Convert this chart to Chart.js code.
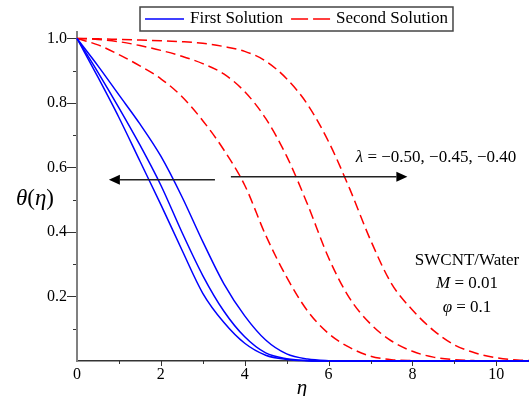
<!DOCTYPE html>
<html>
<head>
<meta charset="utf-8">
<script src="https://cdn.jsdelivr.net/npm/chart.js@4.4.1/dist/chart.umd.min.js"></script>
<style>
  body { margin: 0; background: #fff; }
  canvas { display: block; }
</style>
</head>
<body>
<canvas id="thetaChart" width="529" height="396"></canvas>
<script>
// eta grid the curves were read at
const etaValues = [0, 0.5, 1, 1.5, 2, 2.5, 3, 3.5, 4, 4.5, 5, 5.5, 6, 6.5, 7, 7.5, 8, 8.5, 9, 9.5, 10, 10.5, 11];

// first solution (blue, solid)
const firstSol1 = [1.0, 0.88, 0.755, 0.62, 0.485, 0.345, 0.21, 0.12, 0.055, 0.018, 0.005, 0.001, 0, 0, 0, 0, 0, 0, 0, 0, 0, 0, 0];
const firstSol2 = [1.0, 0.895, 0.785, 0.67, 0.545, 0.40, 0.265, 0.155, 0.075, 0.025, 0.007, 0.001, 0, 0, 0, 0, 0, 0, 0, 0, 0, 0, 0];
const firstSol3 = [1.0, 0.915, 0.825, 0.735, 0.635, 0.51, 0.37, 0.24, 0.14, 0.065, 0.022, 0.006, 0.001, 0, 0, 0, 0, 0, 0, 0, 0, 0, 0];

// second solution (red, dashed)
const secondSol1 = [1.0, 0.98, 0.95, 0.915, 0.875, 0.82, 0.745, 0.655, 0.545, 0.39, 0.26, 0.155, 0.085, 0.042, 0.015, 0.004, 0.001, 0, 0, 0, 0, 0, 0];
const secondSol2 = [1.0, 0.997, 0.99, 0.978, 0.963, 0.945, 0.922, 0.89, 0.835, 0.752, 0.635, 0.485, 0.32, 0.195, 0.115, 0.062, 0.03, 0.012, 0.004, 0.001, 0, 0, 0];
const secondSol3 = [1.0, 0.999, 0.997, 0.995, 0.993, 0.99, 0.985, 0.975, 0.96, 0.93, 0.875, 0.795, 0.68, 0.535, 0.375, 0.24, 0.158, 0.095, 0.05, 0.025, 0.01, 0.003, 0.001];

const legendLabels = ['First Solution', 'Second Solution'];
const xTickValues = [0, 2, 4, 6, 8, 10];
const yTickValues = [0.2, 0.4, 0.6, 0.8, 1.0];
const yTickLabels = ['0.2', '0.4', '0.6', '0.8', '1.0'];

// arrows (data coords): [from, to]
const arrowLeft = [[3.29, 0.562], [0.76, 0.562]];
const arrowRight = [[3.67, 0.571], [7.88, 0.571]];

const SERIF = '"Liberation Serif", "DejaVu Serif", serif';

function toPoints(ys) {
    return etaValues.map((x, i) => ({ x: x, y: ys[i] }));
}

function blueSet(ys, label) {
    return { label: label, data: toPoints(ys), borderColor: '#0000ff', borderWidth: 1.5,
        pointRadius: 0, cubicInterpolationMode: 'monotone', fill: false, clip: false };
}
function redSet(ys, label) {
    return { label: label, data: toPoints(ys), borderColor: '#ff0000', borderWidth: 1.5, borderDash: [10, 5],
        pointRadius: 0, cubicInterpolationMode: 'monotone', fill: false, clip: false };
}

// text with italic pieces
function drawRich(ctx, parts, x, y, size, align) {
    let total = 0;
    parts.forEach(p => {
        ctx.font = (p.i ? 'italic ' : '') + size + 'px ' + SERIF;
        p.w = ctx.measureText(p.t).width;
        total += p.w;
    });
    let cx = align === 'center' ? x - total / 2 : (align === 'right' ? x - total : x);
    ctx.textAlign = 'left';
    ctx.textBaseline = 'middle';
    parts.forEach(p => {
        ctx.font = (p.i ? 'italic ' : '') + size + 'px ' + SERIF;
        ctx.fillText(p.t, cx, y);
        cx += p.w;
    });
}

function drawArrow(ctx, xs, ys, arrow) {
    const x1 = xs.getPixelForValue(arrow[0][0]), y1 = ys.getPixelForValue(arrow[0][1]);
    const x2 = xs.getPixelForValue(arrow[1][0]), y2 = ys.getPixelForValue(arrow[1][1]);
    const dir = Math.sign(x2 - x1);
    const head = 11, half = 5;
    ctx.strokeStyle = '#222';
    ctx.lineWidth = 1.5;
    ctx.setLineDash([]);
    ctx.beginPath();
    ctx.moveTo(x1, y1);
    ctx.lineTo(x2 - dir * head, y2);
    ctx.stroke();
    ctx.fillStyle = '#000';
    ctx.beginPath();
    ctx.moveTo(x2, y2);
    ctx.lineTo(x2 - dir * head, y2 - half);
    ctx.lineTo(x2 - dir * head, y2 + half);
    ctx.closePath();
    ctx.fill();
}

const overlay = {
    id: 'overlay',
    afterDatasetsDraw(chart) {
        const ctx = chart.ctx;
        const xs = chart.scales.x, ys = chart.scales.y;
        const area = chart.chartArea;
        ctx.save();

        // tick marks
        ctx.strokeStyle = '#333';
        ctx.lineWidth = 1;
        ctx.setLineDash([]);
        for (let k = 1; k <= 10; k++) {
            const py = Math.round(ys.getPixelForValue(k / 10)) + 0.5;
            const len = k % 2 === 0 ? 9 : 3;
            ctx.beginPath();
            ctx.moveTo(area.left - 1, py);
            ctx.lineTo(area.left - 1 - len, py);
            ctx.stroke();
        }
        for (let k = 1; k <= 10; k++) {
            const px = Math.round(xs.getPixelForValue(k)) + 0.5;
            const len = k % 2 === 0 ? 5 : 3;
            ctx.beginPath();
            ctx.moveTo(px, area.bottom);
            ctx.lineTo(px, area.bottom + len);
            ctx.stroke();
        }

        // arrows
        drawArrow(ctx, xs, ys, arrowLeft);
        drawArrow(ctx, xs, ys, arrowRight);

        ctx.fillStyle = '#000';
        // axis titles
        drawRich(ctx, [{ t: 'θ', i: true }, { t: '(' }, { t: 'η', i: true }, { t: ')' }], 35, 199, 23, 'center');
        drawRich(ctx, [{ t: 'η', i: true }], (area.left + area.right) / 2 - 1, 388, 21, 'center');

        // annotations
        drawRich(ctx, [{ t: 'λ', i: true }, { t: ' = −0.50, −0.45, −0.40' }], 436, 158, 17, 'center');
        drawRich(ctx, [{ t: 'SWCNT/Water' }], 467, 261, 17, 'center');
        drawRich(ctx, [{ t: 'M', i: true }, { t: ' = 0.01' }], 467, 284, 17, 'center');
        drawRich(ctx, [{ t: 'φ', i: true }, { t: ' = 0.1' }], 467, 308, 17, 'center');

        // legend box
        const fsize = 17;
        ctx.font = fsize + 'px ' + SERIF;
        const w1 = ctx.measureText(legendLabels[0]).width;
        const w2 = ctx.measureText(legendLabels[1]).width;
        const lineLen = 39, pad = 5, gapText = 6, gapItem = 8;
        const boxW = pad + lineLen + gapText + w1 + gapItem + lineLen + gapText + w2 + pad;
        const boxX = (area.left + area.right) / 2 - 6.5 - boxW / 2;
        const boxY = 7, boxH = 24, midY = boxY + boxH / 2;
        ctx.strokeStyle = '#444';
        ctx.lineWidth = 1.5;
        ctx.strokeRect(boxX, boxY, boxW, boxH);

        let cx = boxX + pad;
        ctx.strokeStyle = '#0000ff';
        ctx.beginPath();
        ctx.moveTo(cx, midY);
        ctx.lineTo(cx + lineLen, midY);
        ctx.stroke();
        cx += lineLen + gapText;
        ctx.fillStyle = '#000';
        ctx.textAlign = 'left';
        ctx.textBaseline = 'middle';
        ctx.fillText(legendLabels[0], cx, midY);
        cx += w1 + gapItem;
        ctx.strokeStyle = '#ff0000';
        ctx.setLineDash([17, 5]);
        ctx.beginPath();
        ctx.moveTo(cx, midY);
        ctx.lineTo(cx + lineLen, midY);
        ctx.stroke();
        ctx.setLineDash([]);
        cx += lineLen + gapText;
        ctx.fillText(legendLabels[1], cx, midY);

        ctx.restore();
    }
};

new Chart(document.getElementById('thetaChart').getContext('2d'), {
    type: 'line',
    data: {
        datasets: [
            blueSet(firstSol1, legendLabels[0]),
            blueSet(firstSol2, legendLabels[0]),
            blueSet(firstSol3, legendLabels[0]),
            redSet(secondSol1, legendLabels[1]),
            redSet(secondSol2, legendLabels[1]),
            redSet(secondSol3, legendLabels[1])
        ]
    },
    options: {
        responsive: false,
        animation: false,
        layout: { padding: { top: 32, right: 0, left: 0, bottom: 0 } },
        plugins: { legend: { display: false }, tooltip: { enabled: false } },
        scales: {
            x: {
                type: 'linear', min: 0, max: 10.78,
                afterFit: (s) => { s.height = 35; },
                grid: { display: false, drawTicks: false },
                border: { display: true, color: '#333', width: 1.5 },
                ticks: {
                    stepSize: 1, includeBounds: false, autoSkip: false, maxRotation: 0, padding: 4,
                    color: '#000', font: { family: SERIF, size: 16 },
                    callback: (v) => xTickValues.includes(v) ? String(v) : ''
                }
            },
            y: {
                type: 'linear', min: 0, max: 1.02,
                afterFit: (s) => { s.width = 77; },
                grid: { display: false, drawTicks: false },
                border: { display: true, color: '#808080', width: 2 },
                ticks: {
                    stepSize: 0.1, includeBounds: false, autoSkip: false, padding: 10,
                    color: '#000', font: { family: SERIF, size: 16 },
                    callback: (v) => {
                        const i = yTickValues.findIndex(t => Math.abs(t - v) < 1e-6);
                        return i >= 0 ? yTickLabels[i] : '';
                    }
                }
            }
        }
    },
    plugins: [overlay]
});
</script>
</body>
</html>
